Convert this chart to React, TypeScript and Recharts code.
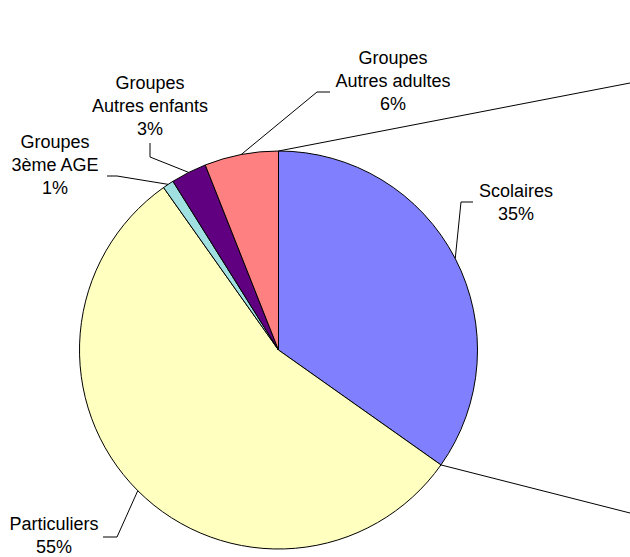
import React from "react";
import { PieChart, Pie, Cell } from "recharts";

const categories = [
  "Scolaires",
  "Particuliers",
  "Groupes\n3ème AGE",
  "Groupes\nAutres enfants",
  "Groupes\nAutres adultes",
];
const shares = [34.8, 55.4, 0.9, 2.9, 6.0];
const colors = ["#8080FF", "#FFFFC0", "#A0E0E0", "#600080", "#FF8080"];

const data = categories.map((name, i) => ({ name, value: shares[i] }));

// hand placed label boxes, like the original spreadsheet chart
const labelLayout = [
  { elbow: [461, 202], end: [473, 202], x: 516, y: 191 },
  { elbow: [117, 537], end: [103, 537], x: 54, y: 524 },
  { elbow: [117, 176], end: [107, 176], x: 55, y: 142 },
  { elbow: [150, 157], end: [150, 143], x: 150, y: 83 },
  { elbow: [317, 92], end: [330, 92], x: 393, y: 58 },
];

const RAD = Math.PI / 180;
const FONT = "'Liberation Sans', Arial, sans-serif";
const LINE_H = 23;

const polar = (cx: number, cy: number, r: number, angle: number) => ({
  x: cx + r * Math.cos(-angle * RAD),
  y: cy + r * Math.sin(-angle * RAD),
});

const renderLabel = (props: any) => {
  const { cx, cy, outerRadius, midAngle, index, percent, startAngle, endAngle } = props;
  const lay = labelLayout[index];
  const p = polar(cx, cy, outerRadius, midAngle);
  const lines = [...categories[index].split("\n"), `${Math.round(percent * 100)}%`];

  return (
    <g key={`lbl-${index}`}>
      {index === 0 && (
        <>
          {/* connector lines running off the right edge */}
          <line
            x1={polar(cx, cy, outerRadius, startAngle).x}
            y1={polar(cx, cy, outerRadius, startAngle).y}
            x2={630}
            y2={83}
            stroke="#000"
            strokeWidth={1}
          />
          <line
            x1={polar(cx, cy, outerRadius, endAngle).x}
            y1={polar(cx, cy, outerRadius, endAngle).y}
            x2={630}
            y2={513}
            stroke="#000"
            strokeWidth={1}
          />
        </>
      )}
      <polyline
        points={`${p.x},${p.y} ${lay.elbow[0]},${lay.elbow[1]} ${lay.end[0]},${lay.end[1]}`}
        fill="none"
        stroke="#000"
        strokeWidth={1}
      />
      <text
        x={lay.x}
        y={lay.y}
        textAnchor="middle"
        dominantBaseline="central"
        fontFamily={FONT}
        fontSize={18}
        fill="#000"
      >
        {lines.map((t, i) => (
          <tspan key={i} x={lay.x} dy={i === 0 ? 0 : LINE_H}>
            {t}
          </tspan>
        ))}
      </text>
    </g>
  );
};

export default function App() {
  return (
    <div style={{ position: "absolute", left: 0, top: 0, width: 630, height: 557, background: "#fff" }}>
      <PieChart width={630} height={557} margin={{ top: 0, right: 0, bottom: 0, left: 0 }}>
        <Pie
          data={data}
          dataKey="value"
          nameKey="name"
          cx={278.5}
          cy={350}
          outerRadius={199}
          startAngle={90}
          endAngle={-270}
          stroke="#000"
          strokeWidth={1}
          label={renderLabel}
          labelLine={false}
          isAnimationActive={false}
        >
          {data.map((d, i) => (
            <Cell key={d.name} fill={colors[i]} />
          ))}
        </Pie>
      </PieChart>
    </div>
  );
}
